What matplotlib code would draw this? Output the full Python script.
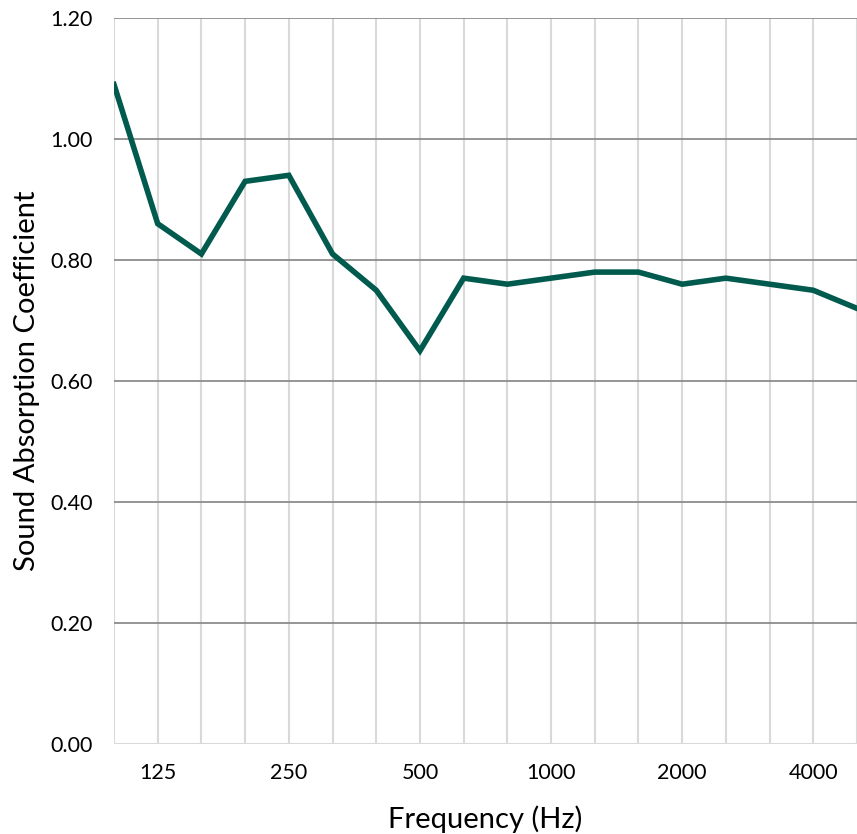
import matplotlib.pyplot as plt
import numpy as np

plt.rcParams['font.family'] = ['Lato', 'DejaVu Sans']

# 1/3-octave bands and measured coefficients
freqs = ['100', '125', '160', '200', '250', '315', '400', '500', '630', '800',
         '1000', '1250', '1600', '2000', '2500', '3150', '4000', '5000']
alpha = [1.09, 0.86, 0.81, 0.93, 0.94, 0.81, 0.75, 0.65, 0.77, 0.76,
         0.77, 0.78, 0.78, 0.76, 0.77, 0.76, 0.75, 0.72]
shown_labels = ['125', '250', '500', '1000', '2000', '4000']

fig = plt.figure(figsize=(8.57, 8.34), dpi=100)
ax = fig.add_axes([114 / 857, 1 - 744 / 834, 743 / 857, 726 / 834])

x = np.arange(len(freqs))
ax.plot(x, alpha, color='#005A4E', lw=4, solid_joinstyle='miter', zorder=3)

ax.set_xlim(0, len(freqs) - 1)
ax.set_ylim(0, 1.2)

# gridlines: light vertical at every band, darker horizontal
for xi in x:
    ax.axvline(xi, color='#d9d9d9', lw=1.5, zorder=1)
ax.set_yticks(np.arange(0, 1.21, 0.2))
ax.set_yticklabels([f'{v:.2f}' for v in np.arange(0, 1.21, 0.2)])
for yv in np.arange(0.2, 1.21, 0.2):
    ax.axhline(yv, color='#8c8c8c', lw=1.3, zorder=2)
ax.axhline(0, color='#d9d9d9', lw=1.5, zorder=2)

ax.set_xticks([freqs.index(f) for f in shown_labels])
ax.set_xticklabels(shown_labels)

for s in ax.spines.values():
    s.set_visible(False)
ax.tick_params(length=0, labelsize=15.5, colors='black')
ax.tick_params(axis='y', pad=15)
ax.tick_params(axis='x', pad=14)

ax.set_xlabel('Frequency (Hz)', fontsize=21, labelpad=16)
ax.set_ylabel('Sound Absorption Coefficient', fontsize=21, labelpad=8)

fig.savefig('out.png', dpi=100)
